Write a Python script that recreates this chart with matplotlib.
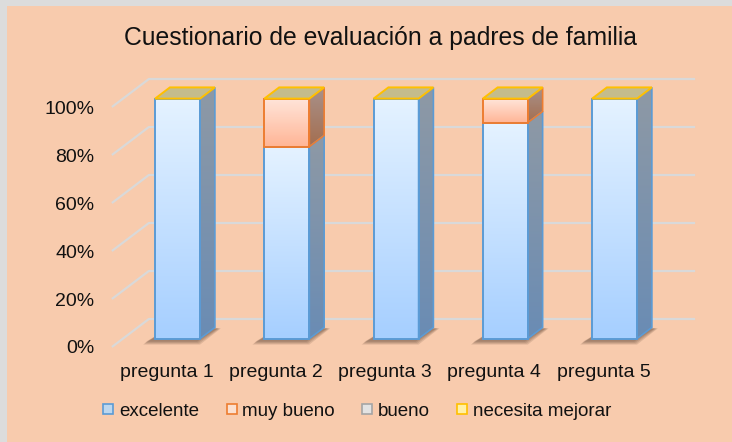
import numpy as np
import matplotlib.pyplot as plt
from matplotlib.colors import LinearSegmentedColormap
from matplotlib.patches import Polygon, Rectangle
from matplotlib.lines import Line2D

categories = ['pregunta 1', 'pregunta 2', 'pregunta 3', 'pregunta 4', 'pregunta 5']
excelente = [100, 80, 100, 90, 100]
muy_bueno = [0, 20, 0, 10, 0]
bueno = [0, 0, 0, 0, 0]
necesita_mejorar = [0, 0, 0, 0, 0]
series_names = ['excelente', 'muy bueno', 'bueno', 'necesita mejorar']
yticks = [0, 20, 40, 60, 80, 100]
ytick_labels = ['0%', '20%', '40%', '60%', '80%', '100%']

# look of each series: front gradient (bottom, top), side gradient (bottom, top), edge
styles = [
    dict(front=('#A6CFFF', '#E4F2FF'), side=('#6A8CB4', '#8E99A5'), edge='#5B9BD5',
         legend_face='#BDD7EE'),
    dict(front=('#FFB596', '#FFE4D8'), side=('#A46E50', '#A8918A'), edge='#ED7D31',
         legend_face='#FBE0D0'),
    dict(front=('#C8C8C8', '#F0F0F0'), side=('#8A8A8A', '#A0A0A0'), edge='#A5A5A5',
         legend_face='#E3E3E3'),
    dict(front=('#FFD966', '#FFF2CC'), side=('#B09040', '#C0A860'), edge='#FFC000',
         legend_face='#FFF0A8'),
]

plt.rcParams['font.family'] = ['Liberation Sans', 'DejaVu Sans']

fig = plt.figure(figsize=(7.32, 4.42), dpi=100)
fig.patch.set_facecolor('#DCDCDC')
fig.add_artist(Rectangle((7 / 732, 0), 1, 1 - 6 / 442, transform=fig.transFigure,
                         facecolor='#F8CBAD', edgecolor='none', zorder=-10))

ax = fig.add_axes([100 / 732, 1 - 360 / 442, 610 / 732, 290 / 442])
ax.patch.set_alpha(0)
for s in ax.spines.values():
    s.set_visible(False)

xlim = (-0.6087, 4.975)
ylim = (-5.417, 115.42)
px_x = 610 / (xlim[1] - xlim[0])
px_y = 290 / (ylim[1] - ylim[0])

# perspective depth vector (full depth of the chart box), in data units
DX = 37 / px_x
DY = 28 / px_y
bar_w = 45 / px_x
d_front, d_back = 0.3, 0.7

# gridlines on the left wall and back wall
for v in yticks:
    ax.plot([-0.5, -0.5 + DX, 4.5 + DX], [v, v + DY, v + DY],
            color='#D9D9D9', lw=1.6, zorder=1, solid_capstyle='butt')


def grad(x0, x1, y0, y1, c_bottom, c_top, clip=None, z=3):
    cmap = LinearSegmentedColormap.from_list('g', [c_bottom, c_top])
    im = ax.imshow(np.linspace(0, 1, 64).reshape(-1, 1), cmap=cmap,
                   extent=(x0, x1, y0, y1), origin='lower', aspect='auto',
                   zorder=z, interpolation='bilinear')
    if clip is not None:
        ax.add_patch(clip)
        im.set_clip_path(clip)


fx, fy = d_front * DX, d_front * DY
bx, by = d_back * DX, d_back * DY
stack = [excelente, muy_bueno, bueno, necesita_mejorar]

for i in range(len(categories)):
    xl, xr = i - bar_w / 2, i + bar_w / 2

    # soft shadow at the base
    for k in range(4):
        e = (4 - k) * 1.0
        sh = Polygon([(xl + fx - (8 + e) / px_x, fy - (2 + e) / px_y),
                      (xr + fx + (e - 4) / px_x, fy - (2 + e) / px_y),
                      (xr + bx + (e + 2) / px_x, by - 1 / px_y),
                      (xl + bx, by)],
                     closed=True, facecolor='#3A2418', edgecolor='none',
                     alpha=0.13, zorder=2)
        ax.add_patch(sh)

    base = 0
    for values, st in zip(stack, styles):
        h = values[i]
        if h <= 0:
            continue
        y0, y1 = base, base + h
        # front face
        grad(xl + fx, xr + fx, y0 + fy, y1 + fy, st['front'][0], st['front'][1], z=4)
        ax.add_patch(Rectangle((xl + fx, y0 + fy), bar_w, h, facecolor='none',
                               edgecolor=st['edge'], lw=1.4, zorder=6))
        # side face
        side = Polygon([(xr + fx, y0 + fy), (xr + bx, y0 + by),
                        (xr + bx, y1 + by), (xr + fx, y1 + fy)],
                       closed=True, facecolor='none', edgecolor='none')
        grad(xr + fx, xr + bx, y0 + fy, y1 + by, st['side'][0], st['side'][1],
             clip=side, z=4)
        ax.add_patch(Polygon(side.get_xy(), closed=True, facecolor='none',
                             edgecolor=st['edge'], lw=1.2, zorder=5))
        base = y1

    # top face of the stack (zero-height top series shows its yellow edge)
    top = Polygon([(xl + fx, base + fy), (xr + fx, base + fy),
                   (xr + bx, base + by), (xl + bx, base + by)],
                  closed=True, facecolor='#C4BC8C', edgecolor=styles[3]['edge'],
                  lw=1.4, zorder=7)
    ax.add_patch(top)

ax.set_xlim(*xlim)
ax.set_ylim(*ylim)
ax.set_xticks(range(len(categories)))
ax.set_xticklabels(categories)
ax.set_yticks(yticks)
ax.set_yticklabels(ytick_labels)
ax.tick_params(length=0, labelsize=14, colors='#111111')
ax.tick_params(axis='y', pad=4)
ax.tick_params(axis='x', pad=3)

fig.text(380 / 732, 1 - 38 / 442, 'Cuestionario de evaluación a padres de familia',
         ha='center', va='center', fontsize=17.8, color='#111111')

handles = [Line2D([], [], marker='s', linestyle='none', markersize=7.8,
                  markerfacecolor=st['legend_face'], markeredgecolor=st['edge'],
                  markeredgewidth=1.2) for st in styles]
fig.legend(handles, series_names, loc='center', ncol=4,
           bbox_to_anchor=(357 / 732, 1 - 411 / 442), frameon=False,
           fontsize=13.5, handlelength=0.6, handletextpad=0.25,
           columnspacing=1.45, labelcolor='#111111')

fig.savefig('out.png', dpi=100, facecolor=fig.get_facecolor())
